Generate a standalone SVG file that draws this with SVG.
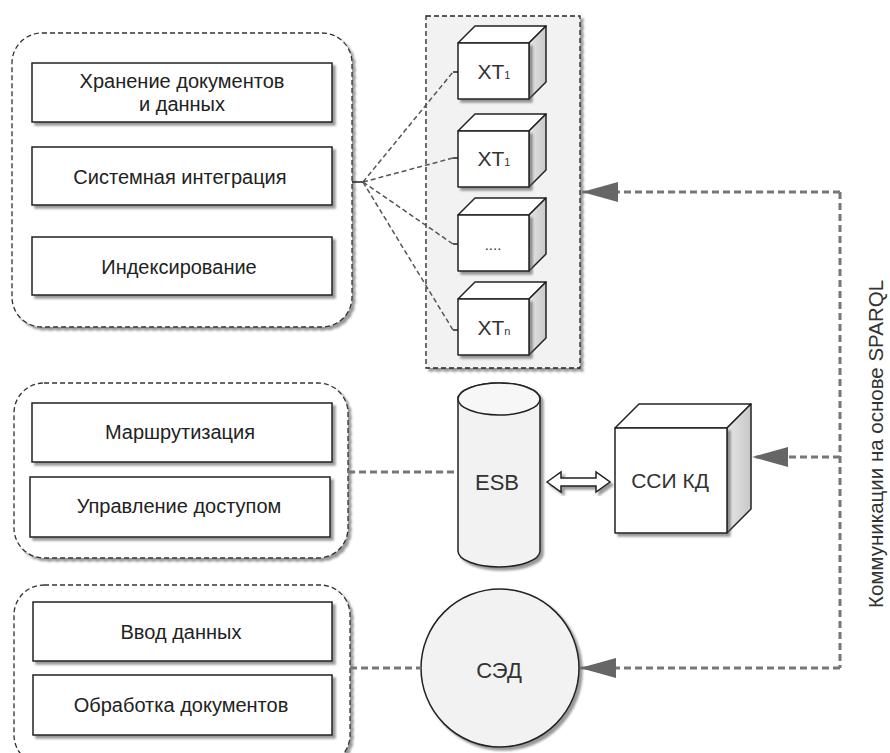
<svg xmlns="http://www.w3.org/2000/svg" width="890" height="753" viewBox="0 0 890 753">
<defs>
<filter id="sh" x="-10%" y="-10%" width="130%" height="130%">
<feDropShadow dx="3" dy="3" stdDeviation="1" flood-color="#555" flood-opacity="0.6"/>
</filter>
<linearGradient id="side" x1="0" y1="0" x2="1" y2="0">
<stop offset="0" stop-color="#e6e6e6"/><stop offset="1" stop-color="#c8c8c8"/>
</linearGradient>
<marker id="ah" markerUnits="userSpaceOnUse" markerWidth="36" markerHeight="20" refX="36" refY="10" orient="auto">
<path d="M0,0 L36,10 L0,20 Z" fill="#666"/>
</marker>
</defs>
<style>
.grp{fill:#fff;stroke:#333;stroke-width:1.3;stroke-dasharray:5 3}
.box{fill:#fff;stroke:#222;stroke-width:1.5}
.t{font-family:"Liberation Sans",Arial,sans-serif;font-size:20px;fill:#222;text-anchor:middle}
.ct{font-family:"Liberation Sans",Arial,sans-serif;font-size:21px;fill:#333;text-anchor:middle}
.sub{font-size:11px}
.face{fill:#fff;stroke:#222;stroke-width:1.5;stroke-linejoin:round}
.sidef{fill:url(#side);stroke:#222;stroke-width:1.5;stroke-linejoin:round}
.con{fill:none;stroke:#777;stroke-width:3;stroke-dasharray:7 4}
.fan{fill:none;stroke:#555;stroke-width:1.5;stroke-dasharray:5 3}
</style>
<rect width="890" height="753" fill="#fff"/>

<g id="group-storage">
<rect class="grp" x="12" y="33" width="340" height="294" rx="30" filter="url(#sh)"/>
<g id="node-storage"><rect class="box" x="32" y="63" width="300" height="59" filter="url(#sh)"/>
<text class="t" x="182" y="88">Хранение документов</text><text class="t" x="182" y="111">и данных</text></g>
<g id="node-integration"><rect class="box" x="32" y="147" width="300" height="58" filter="url(#sh)"/>
<text class="t" x="180" y="184">Системная интеграция</text></g>
<g id="node-indexing"><rect class="box" x="32" y="237" width="300" height="58" filter="url(#sh)"/>
<text class="t" x="179" y="274">Индексирование</text></g>
</g>

<g id="group-routing">
<rect class="grp" x="14" y="383" width="334" height="175" rx="30" filter="url(#sh)"/>
<g id="node-routing"><rect class="box" x="32" y="403" width="300" height="59" filter="url(#sh)"/>
<text class="t" x="180" y="439">Маршрутизация</text></g>
<g id="node-access"><rect class="box" x="30" y="477" width="300" height="60" filter="url(#sh)"/>
<text class="t" x="179" y="513">Управление доступом</text></g>
</g>

<g id="group-input">
<rect class="grp" x="14" y="585" width="336" height="180" rx="30" filter="url(#sh)"/>
<g id="node-input"><rect class="box" x="33" y="602" width="299" height="59" filter="url(#sh)"/>
<text class="t" x="181" y="639">Ввод данных</text></g>
<g id="node-processing"><rect class="box" x="33" y="675" width="299" height="60" filter="url(#sh)"/>
<text class="t" x="181" y="712">Обработка документов</text></g>
</g>

<g id="group-xt">
<rect x="426" y="16" width="154" height="352" fill="#f2f2f2" stroke="#222" stroke-width="1.3" stroke-dasharray="5 3" filter="url(#sh)"/>
<g id="node-xt1">
<polygon class="face" points="458,43 475,26 546,26 529,43"/>
<polygon class="sidef" points="529,43 546,26 546,82 529,99"/>
<rect class="face" x="458" y="43" width="71" height="56" filter="url(#sh)"/>
<text class="ct" x="494" y="79">XT<tspan class="sub">1</tspan></text>
</g>
<g id="node-xt2">
<polygon class="face" points="458,131 475,114 546,114 529,131"/>
<polygon class="sidef" points="529,131 546,114 546,170 529,187"/>
<rect class="face" x="458" y="131" width="71" height="56" filter="url(#sh)"/>
<text class="ct" x="494" y="166">XT<tspan class="sub">1</tspan></text>
</g>
<g id="node-xt3">
<polygon class="face" points="458,215 475,198 546,198 529,215"/>
<polygon class="sidef" points="529,215 546,198 546,254 529,271"/>
<rect class="face" x="458" y="215" width="71" height="56" filter="url(#sh)"/>
<text class="ct" x="493" y="250" style="font-size:15px">....</text>
</g>
<g id="node-xtn">
<polygon class="face" points="458,299 475,282 546,282 529,299"/>
<polygon class="sidef" points="529,299 546,282 546,338 529,355"/>
<rect class="face" x="458" y="299" width="71" height="56" filter="url(#sh)"/>
<text class="ct" x="494" y="335">XT<tspan class="sub">n</tspan></text>
</g>
</g>

<g id="node-esb">
<path d="M458,399 V551 A41,16 0 0 0 540,551 V399 A41,16 0 0 0 458,399 Z" fill="#f2f2f2" stroke="#222" stroke-width="1.5" filter="url(#sh)"/>
<ellipse cx="499" cy="399" rx="41" ry="16" fill="#f7f7f7" stroke="#222" stroke-width="1.5"/>
<text class="ct" x="497" y="490" style="font-size:22px">ESB</text>
</g>

<g id="node-ssi">
<polygon class="face" points="615,428 639,404 751,404 727,428"/>
<polygon class="sidef" points="727,428 751,404 751,509 727,533"/>
<rect class="face" x="615" y="428" width="112" height="105" filter="url(#sh)"/>
<text class="ct" x="670" y="488">ССИ КД</text>
</g>

<g id="node-sed">
<circle cx="500" cy="668" r="79" fill="#f2f2f2" stroke="#222" stroke-width="1.5" filter="url(#sh)"/>
<text class="ct" x="499" y="678" style="font-size:22px">СЭД</text>
</g>

<g id="connectors">
<path d="M352,182 H363" stroke="#222" stroke-width="1.5" fill="none"/>
<path class="fan" d="M363,182 L453,72"/>
<path class="fan" d="M363,182 L453,158"/>
<path class="fan" d="M363,182 L453,244"/>
<path class="fan" d="M363,182 L453,330"/>
<path d="M453,72 H458 M453,158 H458 M453,244 H458 M453,330 H458" stroke="#222" stroke-width="1.5" fill="none"/>
<path class="con" d="M348,472 H458"/>
<path class="con" d="M350,668 H421"/>
<polygon points="547,482 561,472 561,478 596,478 596,472 610,482 596,492 596,486 561,486 561,492" fill="#fff" stroke="#222" stroke-width="1.5" stroke-linejoin="miter" filter="url(#sh)"/>
<path class="con" d="M840,192 V668"/>
<path class="con" d="M840,192 H582" marker-end="url(#ah)"/>
<path class="con" d="M840,457 H752" marker-end="url(#ah)"/>
<path class="con" d="M840,668 H580" marker-end="url(#ah)"/>
</g>

<text class="ct" transform="translate(883,444) rotate(-90)" style="font-size:20.5px">Коммуникации на основе SPARQL</text>
</svg>
